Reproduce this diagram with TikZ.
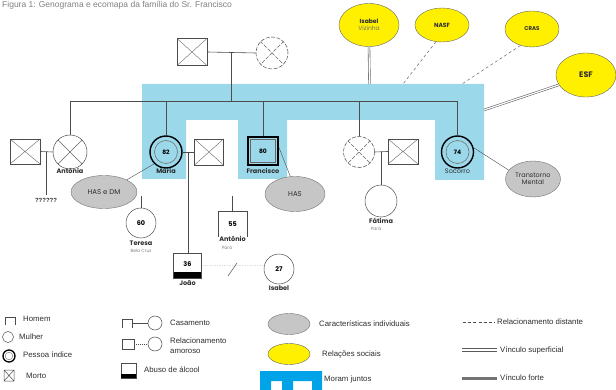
\documentclass[tikz,border=0pt]{standalone}
\usepackage{fontspec}
\setmainfont{Liberation Sans}
\newfontfamily\gfont{Poppins}
\usetikzlibrary{shapes.geometric,calc}
\definecolor{band}{RGB}{155,216,234}
\definecolor{bandleg}{RGB}{0,162,232}
\definecolor{ecoyel}{RGB}{255,240,0}
\definecolor{chargray}{RGB}{198,198,198}
\definecolor{inkgray}{RGB}{45,45,45}
\begin{document}
\begin{tikzpicture}[x=1pt,y=-1pt,
  ln/.style={draw=black!70,line width=0.6pt},
  man/.style={rectangle,draw=black!70,line width=0.5pt,minimum width=29pt,minimum height=26pt,inner sep=0pt,font=\gfont\fontsize{6.5}{7}\selectfont\bfseries},
  woman/.style={circle,draw=black!70,line width=0.5pt,minimum size=31pt,inner sep=0pt,font=\gfont\fontsize{6.5}{7}\selectfont\bfseries},
  dead/.style={path picture={\draw[black!60,line width=0.4pt]
      (path picture bounding box.north west) -- (path picture bounding box.south east)
      (path picture bounding box.north east) -- (path picture bounding box.south west);}},
  dashline/.style={dash pattern=on 4pt off 1.5pt},
  indexc/.style={circle,draw=black,line width=1.4pt,minimum size=32pt,inner sep=0pt,font=\gfont\fontsize{6}{7}\selectfont\bfseries},
  lbl/.style={inner sep=0.5pt,font=\gfont\fontsize{6.5}{7}\selectfont\bfseries,text=inkgray},
  placetxt/.style={inner sep=0pt,font=\gfont\fontsize{4.5}{5}\selectfont,text=black!50},
  charac/.style={ellipse,draw=black!55,fill=chargray,inner sep=0pt,font=\gfont\fontsize{7}{8}\selectfont,text=inkgray,align=center},
  social/.style={ellipse,draw=black!60,fill=ecoyel,inner sep=0pt,font=\gfont\fontsize{6}{8}\selectfont\bfseries,text=inkgray,align=center},
  weak/.style={draw=black!60,line width=0.5pt,dash pattern=on 3pt off 2.5pt},
  superficial/.style={draw=black!60,line width=0.6pt,double=white,double distance=1.2pt},
  strongtie/.style={draw=black!55,line width=3pt},
  legtxt/.style={anchor=west,inner sep=0pt,font=\fontsize{7.8}{8.5}\selectfont,text=inkgray}
]
\useasboundingbox (0,0) rectangle (616,390);

% caption along the top edge
\node[anchor=north west,inner sep=0pt,font=\fontsize{8.5}{9}\selectfont,text=black!50] (caption) at (2,0.6) {Figura 1: Genograma e ecomapa da família do Sr. Francisco};

% household ("moram juntos") band
\fill[band] (142,84) -- (484,84) -- (484,180) -- (435,180) -- (435,120) -- (287,120)
  -- (287,179) -- (238,179) -- (238,120) -- (186,120) -- (186,179) -- (142,179) -- cycle;

% ---------- ecomap ----------
\node[social,minimum width=60pt,minimum height=43pt] (viz) at (369,25) {Isabel\\[-1pt]{\mdseries\color{black!55}Vizinha}};
\node[social,minimum width=54pt,minimum height=34pt] (nasf) at (442,25) {NASF};
\node[social,minimum width=54pt,minimum height=36pt,font=\gfont\fontsize{5.5}{7}\selectfont\bfseries] (cras) at (532,29) {CRAS};
\node[social,minimum width=60pt,minimum height=44pt,font=\gfont\fontsize{8}{9}\selectfont\bfseries] (esf) at (586,75) {ESF};
\coordinate (bviz) at (369.5,84);
\coordinate (bnasf) at (403,84);
\coordinate (bcras) at (462,84);
\coordinate (besf) at (484,110);
\draw[superficial] (viz.south) -- (bviz);
\draw[weak] (nasf.-110) -- (bnasf);
\draw[weak] (cras.-125) -- (bcras);
\draw[superficial] (esf.200) -- (besf);

% ---------- grandparents ----------
\node[man,dead,minimum width=30pt,minimum height=27pt] (gf) at (192,52) {};
\node[woman,dead,dashline,minimum size=32pt] (gm) at (272,53) {};
\coordinate (gpm) at (231,52);
\draw[ln] (gf.east) -- (gm.west);
\coordinate (sibL) at (70,101);
\coordinate (sibR) at (457.5,101);
\draw[ln] (gpm) -- (gpm |- sibL);
\draw[ln] (sibL) -- (sibR);

% ---------- Antônia ----------
\node[woman,dead,minimum size=34pt] (antonia) at (70,152) {};
\node[man,dead,minimum width=30pt,minimum height=25pt] (antH) at (25,151.5) {};
\draw[ln] (sibL) -- (antonia.north);
\draw[ln] (antH.east) -- (antonia.west);
\node[lbl,anchor=north] (antonian) at (70,168) {Antônia};
\node[inner sep=0pt,font=\fontsize{6}{7}\selectfont\bfseries,text=inkgray] (unk) at (46,200) {??????};
\coordinate (antm) at (46,152);
\draw[ln] (antm) -- ([yshift=3pt]unk.north);

% ---------- Maria ----------
\node[indexc] (maria) at (166,152) {82};
\draw[black!60,line width=0.5pt] (maria.center) circle (11.5pt);
\node[lbl,anchor=north] (marian) at (166,168) {Maria};
\draw[ln] (maria.north |- sibL) -- (maria.north);
\node[man,dead,minimum width=29pt,minimum height=26pt] (mariaH) at (209,152) {};
\draw[ln] (maria.east) -- (mariaH.west);
\coordinate (mariam) at (188,152);
\node[charac,minimum width=66pt,minimum height=33pt] (hasdm) at (104,192) {HAS e DM};
\draw[ln,line width=0.4pt] (maria.225) -- (hasdm.28);

% Teresa
\node[woman,minimum size=30pt] (teresa) at (141,223) {60};
\coordinate (teresaT) at (141,196);
\draw[ln] (teresaT) -- (teresa.north);
\node[lbl,anchor=north] (teresan) at (141,240) {Teresa};
\node[placetxt,anchor=north] (teresap) at (141,249) {Bela Cruz};

% João
\node[man,minimum width=28pt,minimum height=25pt,
  path picture={\fill[black] (path picture bounding box.south west) rectangle ([yshift=6pt]path picture bounding box.south east);}] (joao) at (187.5,265.5) {\raisebox{3pt}{36}};
\draw[ln] (mariam) -- (mariam |- joao.north);
\node[lbl,anchor=north] (joaon) at (187.5,280) {João};

% Antônio
\node[rectangle,minimum width=29pt,minimum height=26pt,inner sep=0pt,font=\gfont\fontsize{6.5}{7}\selectfont\bfseries] (antonio) at (232.5,224) {55};
\draw[black!70,line width=0.5pt] (antonio.south west) |- (antonio.north) -| (antonio.south east);
\coordinate (antonioT) at (232.5,196);
\draw[ln] (antonioT) -- (antonio.north);
\node[lbl,anchor=north] (antonion) at (232.5,236) {Antônio};
\node[placetxt,anchor=north] (antoniop) at (227,246) {Pará};

% Isabel
\node[woman,minimum size=30pt] (isabel) at (279,269) {27};
\node[lbl,anchor=north] (isabeln) at (279,285) {Isabel};
\draw[black!12,line width=0.5pt,dash pattern=on 1.5pt off 1pt] (joao.east |- 0,265) -- (isabel.west |- 0,265);
\coordinate (sepA) at (228,276);
\coordinate (sepB) at (237,263);
\draw[black!70,line width=0.5pt] (sepA) -- (sepB);

% ---------- Francisco ----------
\node[man,draw=black,line width=1.4pt,minimum width=30pt,minimum height=28pt,font=\gfont\fontsize{6}{7}\selectfont\bfseries] (fran) at (263,151) {80};
\draw[black!60,line width=0.5pt] ([shift={(3pt,-3pt)}]fran.north west) rectangle ([shift={(-3pt,3pt)}]fran.south east);
\draw[ln] (fran.north |- sibL) -- (fran.north);
\node[lbl,anchor=north] (frann) at (263,168) {Francisco};
\node[charac,minimum width=60pt,minimum height=35pt] (has) at (295,194) {HAS};
\draw[ln,line width=0.4pt] (fran.15) -- (has.105);

% ---------- deceased sibling and Fátima ----------
\node[woman,dead,dashline,minimum size=31pt] (sib) at (359,152) {};
\node[man,dead,minimum width=30pt,minimum height=25pt] (sibH) at (403,151.5) {};
\draw[ln] (sib.north |- sibL) -- (sib.north);
\draw[ln] (sib.east) -- (sibH.west);
\coordinate (sibm) at (381,152);
\node[woman,minimum size=32pt] (fatima) at (381,201) {};
\draw[ln] (sibm) -- (fatima.north);
\node[lbl,anchor=north] (fatiman) at (381,217) {Fátima};
\node[placetxt,anchor=north] (fatimap) at (376,227) {Pará};

% ---------- Socorro ----------
\node[indexc] (socorro) at (457.5,152) {74};
\draw[black!60,line width=0.5pt] (socorro.center) circle (11.5pt);
\draw[ln] (sibR) -- (socorro.north);
\node[lbl,anchor=north,font=\gfont\fontsize{6.5}{7}\selectfont] (socorron) at (457.5,168) {Socorro};
\node[charac,minimum width=55pt,minimum height=36pt,font=\gfont\fontsize{6.5}{7.5}\selectfont] (tm) at (533,179) {Transtorno\\Mental};
\draw[ln,line width=0.4pt] (socorro.15) -- (tm.160);

% ---------- legend ----------
\draw[black!70,line width=0.5pt] (5,325) -- (5,317) -- (15,317) -- (15,325);
\node[legtxt] (lhomem) at (23,319) {Homem};
\draw[black!70,line width=0.5pt] (8,337) circle (5.5pt);
\node[legtxt] (lmulher) at (19,337) {Mulher};
\draw[black,line width=1.3pt] (9,356) circle (6pt);
\draw[black!60,line width=0.4pt] (9,356) circle (3.8pt);
\node[legtxt] (lindice) at (23,355) {Pessoa índice};
\draw[black!70,line width=0.5pt] (4,370) rectangle (14,381) (4,370) -- (14,381) (14,370) -- (4,381);
\node[legtxt] (lmorto) at (26,376) {Morto};

\draw[black!70,line width=0.5pt] (122,328) -- (122,319) -- (132,319) -- (132,328);
\draw[black!70,line width=0.5pt] (132,323) -- (148,323);
\draw[black!70,line width=0.5pt] (155,323) circle (7pt);
\node[legtxt] (lcas) at (170,323) {Casamento};
\draw[black!70,line width=0.5pt] (122,339) rectangle (134,349);
\draw[black!70,line width=0.5pt,dash pattern=on 1pt off 1pt] (134,344) -- (148,344);
\draw[black!70,line width=0.5pt] (155,344) circle (7pt);
\node[legtxt,align=left,font=\fontsize{7.8}{10}\selectfont] (lrel) at (170,346) {Relacionamento\\amoroso};
\draw[black!70,line width=0.5pt] (121,363) rectangle (136,378);
\fill[black] (121,374) rectangle (136,378);
\node[legtxt] (lalc) at (144,370) {Abuso de álcool};

\node[charac,minimum width=42pt,minimum height=21pt] (lgray) at (289,324) {};
\node[legtxt] (lcar) at (319,324) {Características individuais};
\node[social,minimum width=42pt,minimum height=21pt] (lyel) at (289,354) {};
\node[legtxt] (lsoc) at (322,355) {Relações sociais};
\fill[bandleg] (260,371) -- (322,371) -- (322,390) -- (312,390) -- (312,381) -- (293,381)
  -- (293,390) -- (282,390) -- (282,381) -- (271,381) -- (271,390) -- (260,390) -- cycle;
\node[legtxt] (lmor) at (324,379) {Moram juntos};

\draw[black!70,line width=0.5pt,dash pattern=on 3pt off 2.2pt] (463,322) -- (495,322);
\node[legtxt] (ldist) at (497,322) {Relacionamento distante};
\draw[black!65,line width=0.6pt] (462,348.6) -- (497,348.6) (462,351.4) -- (497,351.4);
\node[legtxt] (lsup) at (500,350) {Vínculo superficial};
\draw[strongtie] (462,378) -- (497,378);
\node[legtxt] (lfor) at (500,378) {Vínculo forte};
\end{tikzpicture}
\end{document}
